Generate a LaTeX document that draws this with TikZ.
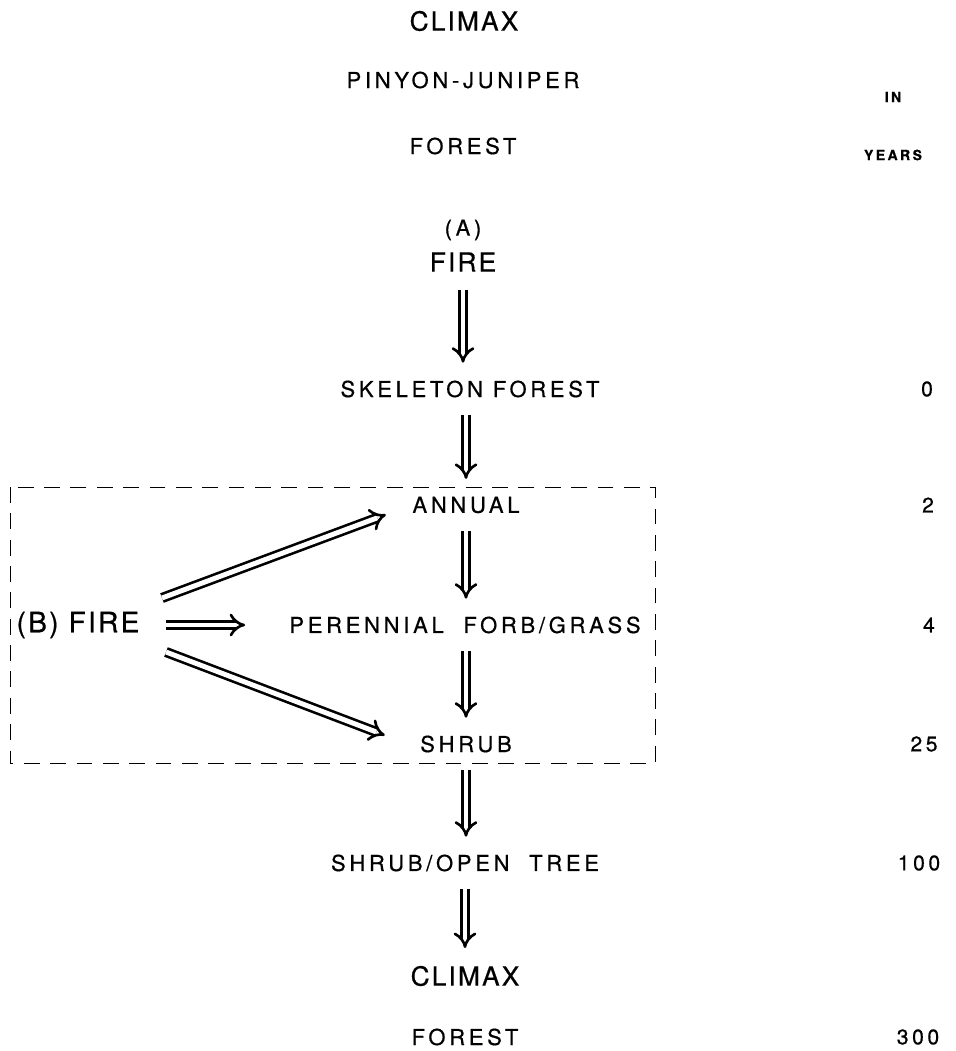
\documentclass[tikz,border=0pt]{standalone}
\usepackage{fontspec}
\usepackage{tikz}
\usetikzlibrary{arrows.meta}
\newfontfamily\lblfont[LetterSpace=17, FakeBold=0.6]{TeX Gyre Heros}
\newfontfamily\bigfont[LetterSpace=8, FakeBold=0.6]{TeX Gyre Heros}

\tikzset{
	stage/.style={font=\lblfont\fontsize{12.5}{14}\selectfont, inner sep=0pt},
	bigstage/.style={font=\bigfont\fontsize{15}{17}\selectfont, inner sep=0pt},
	yearlbl/.style={font=\lblfont\fontsize{12}{14}\selectfont, inner sep=0pt},
	headlbl/.style={font=\lblfont\bfseries\fontsize{8}{10}\selectfont, inner sep=0pt},
	dbl/.style={double, double distance=2.8pt, line width=1.5pt, -{Implies}, shorten <=10pt, shorten >=10pt},
	framebox/.style={line width=0.5pt, dash pattern=on 9pt off 6pt}
}

\begin{document}
\begin{tikzpicture}[x=0.02cm, y=-0.02cm]
		\useasboundingbox (0,0) rectangle (956,1051);

		% the climax at the top
		\node [bigstage] (climtop) at (464,21) {CLIMAX};
		\node [stage] (pinyon) at (463,80) {PINYON-JUNIPER};
		\node [stage] (forestop) at (463,146) {FOREST};
		\node [headlbl] (inlbl) at (893,97) {IN};
		\node [headlbl] (yrslbl) at (893,155) {YEARS};

		% first fire
		\node [stage] (alabel) at (463,230) {(A)};
		\node [bigstage] (firea) at (463,262) {FIRE};

		% the stages of the succession
		\node [stage] (skel) at (470,389) {SKELETON\ FOREST};
		\node [stage] (annual) at (466,505) {ANNUAL};
		\node [stage] (peren) at (465,625) {PERENNIAL\ \ FORB/GRASS};
		\node [stage] (shrub) at (466,744) {SHRUB};
		\node [stage] (opentree) at (465,863) {SHRUB/OPEN\ \ TREE};
		\node [bigstage] (climbot) at (465,976) {CLIMAX};
		\node [stage] (forestbot) at (465,1037) {FOREST};

		% years
		\node [yearlbl] (yr0) at (927,389) {0};
		\node [yearlbl] (yr2) at (928,505) {2};
		\node [yearlbl] (yr4) at (929,625) {4};
		\node [yearlbl] (yr25) at (924,744) {25};
		\node [yearlbl] (yr100) at (919,863) {100};
		\node [yearlbl] (yr300) at (918,1037) {300};

		% arrows down the chain
		\draw [dbl] (firea.south) -- (firea.south |- skel.north);
		\draw [dbl] (skel.south -| annual) -- (annual.north);
		\draw [dbl] (annual.south) -- (annual.south |- peren.north);
		\draw [dbl] (peren.south -| shrub) -- (shrub.north);
		\draw [dbl] (shrub.south) -- (shrub.south |- opentree.north);
		\draw [dbl] (opentree.south) -- (opentree.south |- climbot.north);

		% second fire, the short loop
		\draw [framebox] (10,487) rectangle (655,763);
		\node [bigstage, font=\bigfont\fontsize{16}{18}\selectfont] (fireb) at (78,625) {(B) FIRE};
		\coordinate (bup) at (162,598);
		\coordinate (bmid) at (166,625);
		\coordinate (blow) at (166,652);
		\draw [dbl, shorten <=0pt, shorten >=0pt] (bup) -- ([xshift=-15pt, yshift=-5.5pt]annual.west);
		\draw [dbl, shorten <=0pt, shorten >=0pt] (bmid) -- ([xshift=-25pt]peren.west);
		\draw [dbl, shorten <=0pt, shorten >=0pt] (blow) -- ([xshift=-20pt, yshift=5pt]shrub.west);
	\end{tikzpicture}
\end{document}
